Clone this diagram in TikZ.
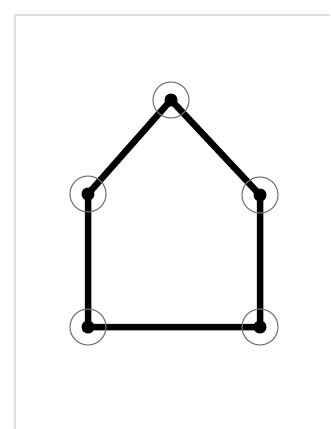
\documentclass[tikz,border=0pt]{standalone}
\begin{document}
\begin{tikzpicture}[x=1pt,y=-1pt,
  frameline/.style={draw=black!13, line width=2pt},
  ring/.style={circle, draw=black!55, line width=1.1pt, minimum size=36pt, inner sep=0pt},
  dot/.style={circle, fill=black, minimum size=13pt, inner sep=0pt},
  edge/.style={line width=6.5pt, line cap=round, line join=round}]
\useasboundingbox (0,0) rectangle (330,429);
\fill[white] (0,0) rectangle (330,429);
\draw[frameline] (15,429) -- (15,15) -- (330,15);
\coordinate (T) at (171,100);
\coordinate (L) at (88,194);
\coordinate (R) at (260,195);
\coordinate (BL) at (88,327);
\coordinate (BR) at (260,327);
\draw[edge] (T) -- (R) -- (BR) -- (BL) -- (L) -- cycle;
\foreach \p in {T,L,R,BL,BR} {
  \node[ring] (r\p) at (\p) {};
  \node[dot] (d\p) at (\p) {};
}
\end{tikzpicture}
\end{document}
